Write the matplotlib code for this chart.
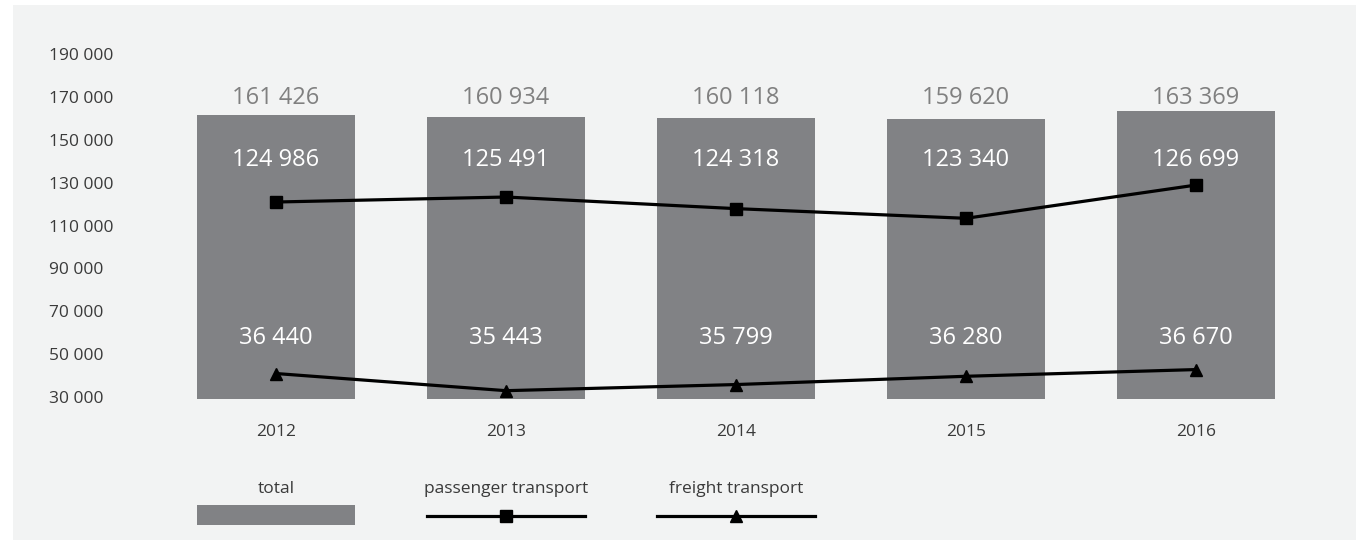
import matplotlib
matplotlib.use("Agg")
import matplotlib.pyplot as plt
from matplotlib.patches import Rectangle

plt.rcParams['font.family'] = ['Open Sans', 'DejaVu Sans']

years = ["2012", "2013", "2014", "2015", "2016"]
total = [161426, 160934, 160118, 159620, 163369]
passenger = [124986, 125491, 124318, 123340, 126699]
freight = [36440, 35443, 35799, 36280, 36670]
yticks = [30000, 50000, 70000, 90000, 110000, 130000, 150000, 170000, 190000]
legend_labels = ["total", "passenger transport", "freight transport"]

def fmt(v):
    return f"{v:,}".replace(",", " ")

BAR = "#818285"
PANEL = "#f2f3f3"
TXT = "#3a3a3a"

W, H = 1361, 542
fig = plt.figure(figsize=(W / 100, H / 100), dpi=100)
fig.patch.set_facecolor("white")

def px_axes(x0, y0, x1, y1, **kw):
    return fig.add_axes([x0 / W, 1 - y1 / H, (x1 - x0) / W, (y1 - y0) / H], **kw)

# panel background
bg = px_axes(13, 5, 1356, 540)
bg.set_facecolor(PANEL)
bg.set_xticks([]); bg.set_yticks([])
for s in bg.spines.values():
    s.set_visible(False)
bg.set_zorder(-10)

ax = px_axes(161, 40, 1311, 399.5)
ax.set_facecolor("none")
x = list(range(len(years)))
bw = 0.687
ymin = 28700
ax.bar(x, [t - ymin for t in total], bottom=ymin, width=bw, color=BAR, zorder=1)
ax.set_xlim(-0.5, 4.5)
ax.set_ylim(ymin, 196700)
ax.set_yticks(yticks)
ax.set_yticklabels([fmt(v) for v in yticks], ha="left")
ax.set_xticks(x)
ax.set_xticklabels(years)
ax.tick_params(axis="both", length=0, labelsize=12.5, colors=TXT)
ax.tick_params(axis="y", pad=80.5)
ax.tick_params(axis="x", pad=18)
for s in ax.spines.values():
    s.set_visible(False)

for i, v in enumerate(total):
    ax.text(i, 169600, fmt(v), ha="center", va="center", fontsize=17, color="#808080", zorder=5)
for i, v in enumerate(passenger):
    ax.text(i, 140400, fmt(v), ha="center", va="center", fontsize=17, color="white", zorder=5)
for i, v in enumerate(freight):
    ax.text(i, 57300, fmt(v), ha="center", va="center", fontsize=17, color="white", zorder=5)

# passenger line on its own hidden scale
axp = ax.twinx()
axp.set_ylim(105040, 141350)
axp.plot(x, passenger, color="black", lw=2.3, marker="s", ms=8, zorder=6)
axp.axis("off")

# freight line on its own hidden scale
axf = ax.twinx()
axf.set_ylim(34930, 55830)
axf.plot(x, freight, color="black", lw=2.3, marker="^", ms=8, zorder=6)
axf.axis("off")

# legend row, aligned with the bar columns
axl = px_axes(161, 470, 1311, 535)
axl.set_facecolor("none")
axl.set_xlim(-0.5, 4.5)
axl.set_ylim(535, 470)
axl.axis("off")
axl.add_patch(Rectangle((0 - bw / 2, 505), bw, 20, facecolor=BAR, edgecolor="none"))
axl.plot([1 - bw / 2, 1 + bw / 2], [515.7, 515.7], color="black", lw=2.3)
axl.plot([1], [515.7], color="black", marker="s", ms=8)
axl.plot([2 - bw / 2, 2 + bw / 2], [515.7, 515.7], color="black", lw=2.3)
axl.plot([2], [515.7], color="black", marker="^", ms=8)
for i, lab in enumerate(legend_labels):
    axl.text(i, 489.5, lab, ha="center", va="center", fontsize=12.5, color=TXT)

fig.savefig("out.png", dpi=100, facecolor="white")
